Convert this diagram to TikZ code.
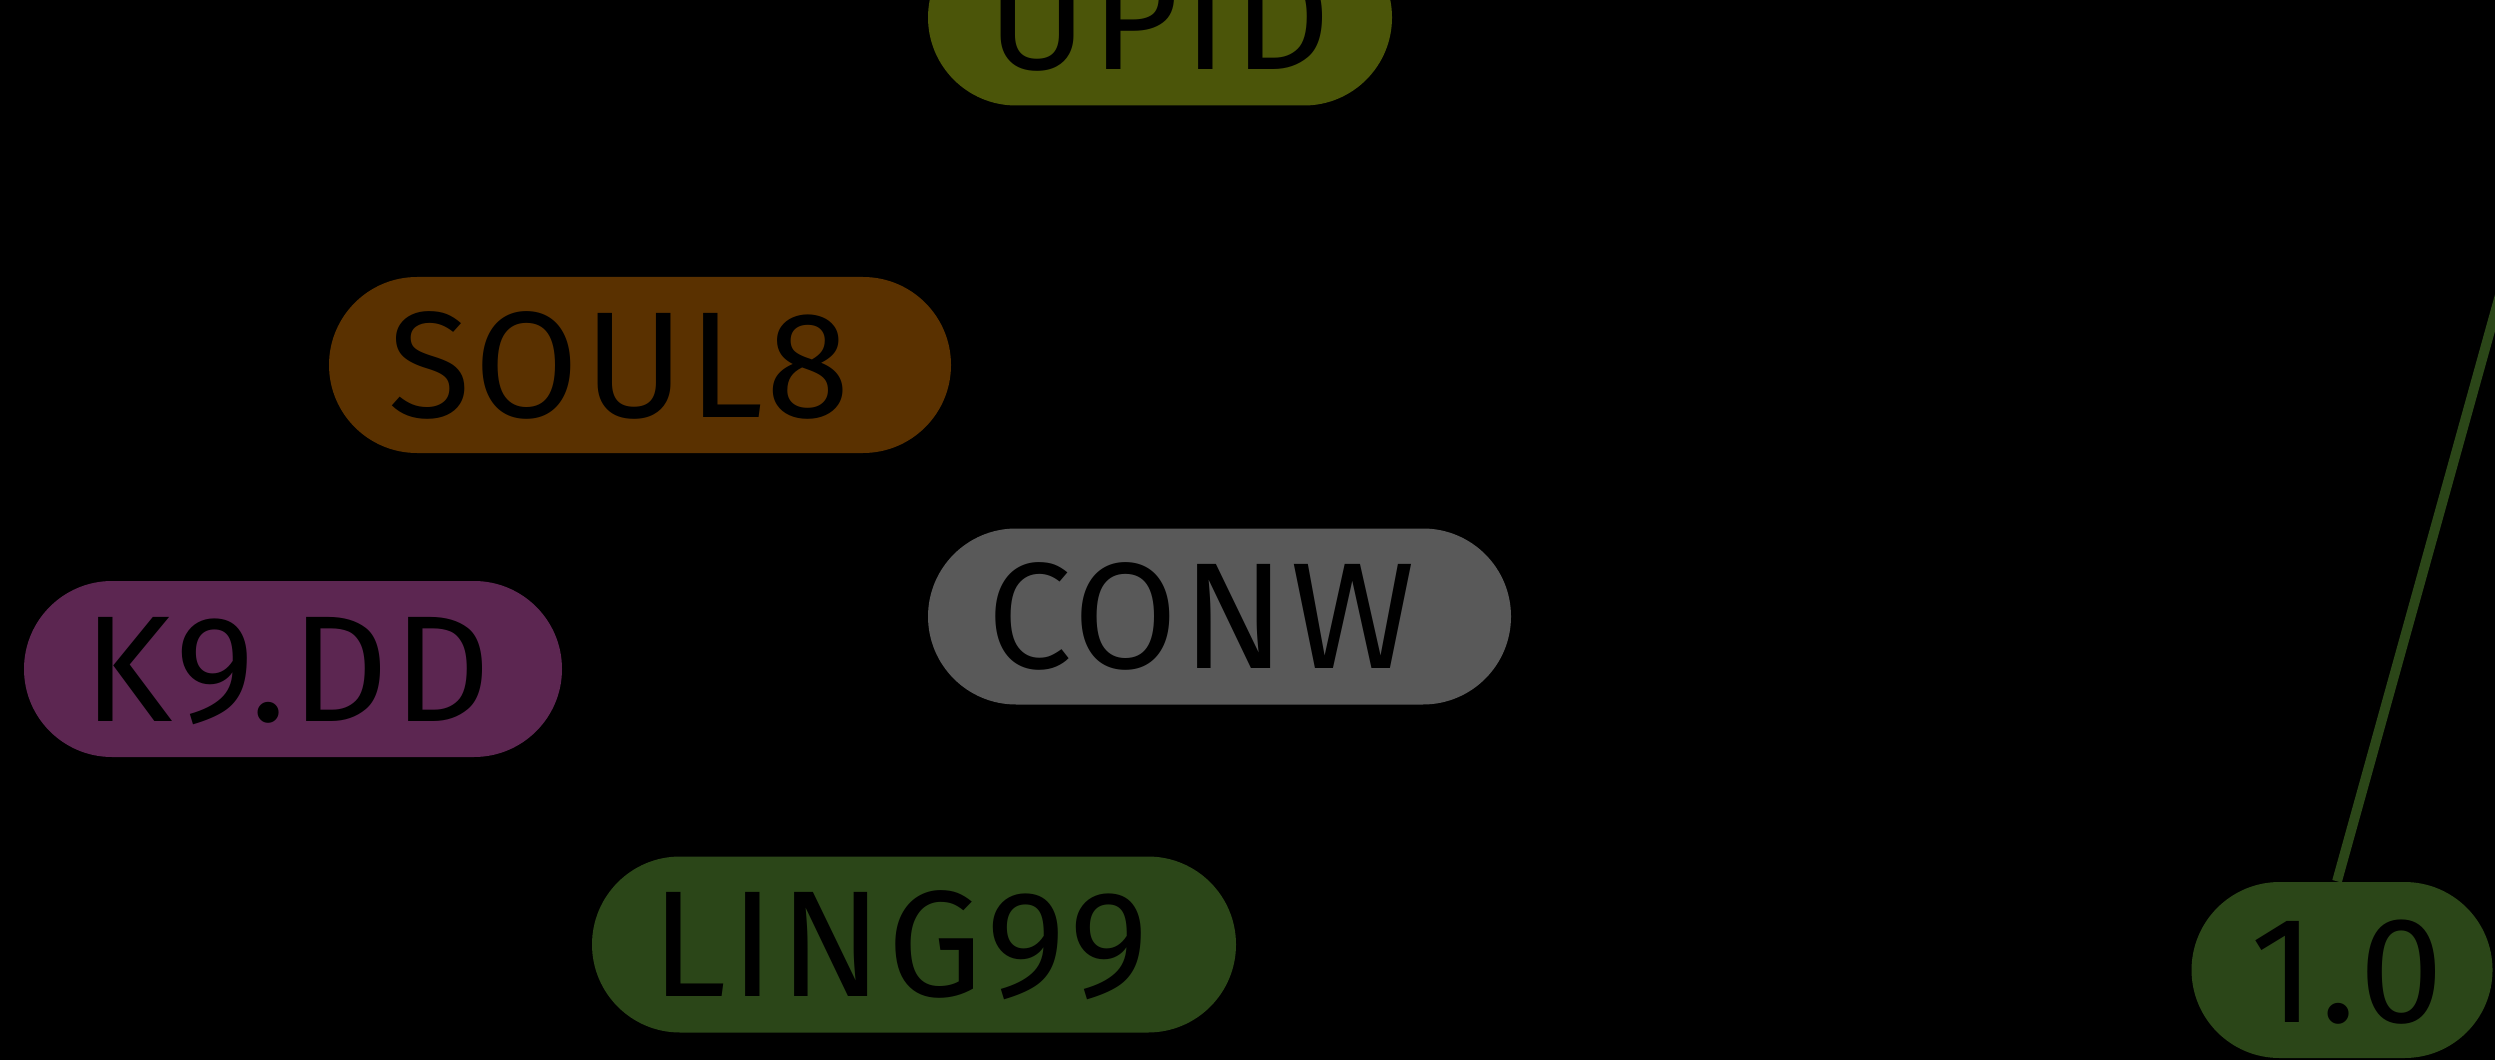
\documentclass[tikz,border=0pt]{standalone}
\usepackage{fontspec}
\setmainfont[LetterSpace=3]{Fira Sans}
\usepackage{tikz}
\usetikzlibrary{positioning,backgrounds}
\definecolor{cOlive}{RGB}{75,85,9}
\definecolor{cBrown}{RGB}{90,49,0}
\definecolor{cGrey}{RGB}{89,89,89}
\definecolor{cPlum}{RGB}{92,38,81}
\definecolor{cGreen}{RGB}{43,70,24}
\newcommand{\pillfont}{\fontsize{43}{43}\selectfont}
\tikzset{
  pill/.style={rounded corners=8.8mm, minimum height=17.6mm, inner xsep=5.9mm,
               inner ysep=0pt, align=left, text=black, font=\pillfont,
               text height=29.6pt, text depth=0pt},
  link/.style={line width=2.8pt},
}

\begin{document}
\begin{tikzpicture}
  \useasboundingbox (0,0) rectangle (24.95,-10.6);
  \fill[black] (0,0) rectangle (24.95,-10.6);
  \clip (0,0) rectangle (24.95,-10.6);
  \node[pill, fill=cOlive, text width=34.6mm] (upid) at (11.60,-0.175) {UPID};
  \node[pill, fill=cBrown, text width=50.4mm] (soul) at (6.40,-3.65) {SOUL8};
  \node[pill, fill=cGrey, text width=46.5mm] (conw) at (12.195,-6.165) {CONW};
  \node[pill, fill=cPlum, text width=42.0mm] (kdd) at (2.93,-6.69) {K9.DD};
  \node[pill, fill=cGreen, text width=52.6mm] (ling) at (9.14,-9.445) {LING99};
  \node[pill, fill=cGreen, text width=18.3mm] (one) at (23.42,-9.70) {1.0};
  \coordinate (far) at (26.08,0.94);
  \draw[link, cGreen] ([xshift=-0.5mm]one.north) -- (far);
\end{tikzpicture}
\end{document}
